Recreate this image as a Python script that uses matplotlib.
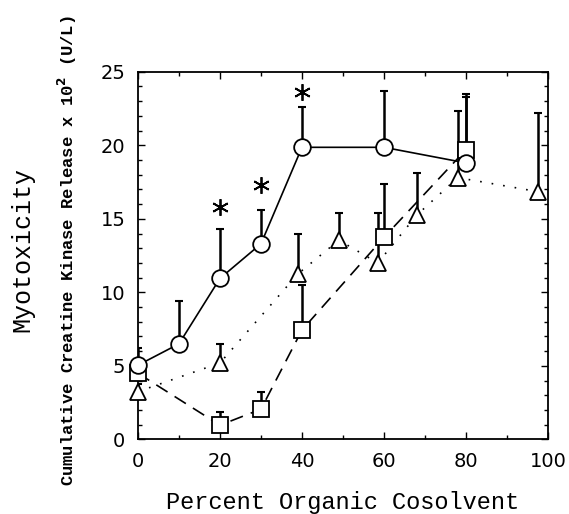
import matplotlib
matplotlib.use("Agg")
import matplotlib.pyplot as plt
from matplotlib.ticker import MultipleLocator

# Circles (solid)
circ_x = [0, 10, 20, 30, 40, 60, 80]
circ_y = [5.05, 6.5, 10.95, 13.3, 19.86, 19.86, 18.8]
circ_err = [1.2, 2.9, 3.35, 2.3, 2.75, 3.85, 4.5]
# Squares (dashed)
sq_x = [0, 20, 30, 40, 60, 80]
sq_y = [4.5, 0.97, 2.06, 7.44, 13.74, 19.7]
sq_err = [0.8, 0.9, 1.15, 3.05, 3.65, 3.8]
# Triangles (dotted)
tri_x = [0, 20, 39, 49, 58.5, 68, 78, 97.5]
tri_y = [3.25, 5.2, 11.25, 13.55, 12.0, 15.25, 17.8, 16.85]
tri_err = [0.5, 1.3, 2.75, 1.85, 3.4, 2.85, 4.5, 5.35]
# Significance asterisks
star_x = [20, 30, 40]
star_y = [15.8, 17.3, 23.6]

fig = plt.figure(figsize=(5.69, 5.14), dpi=100)
ax = fig.add_axes([0.2425, 0.145, 0.7205, 0.7155])

def series(x, y, err, marker, ls):
    ax.plot(x, y, color='black', lw=1.2, linestyle=ls, zorder=2)
    ax.errorbar(x, y, yerr=[[0]*len(err), err], fmt='none', ecolor='black',
                elinewidth=1.8, capsize=3, capthick=1.5, zorder=1)
    ax.plot(x, y, linestyle='none', marker=marker, ms=12, mfc='white',
            mec='black', mew=1.3, zorder=3, clip_on=False)

series(sq_x, sq_y, sq_err, 's', (0, (8, 5)))
series(tri_x, tri_y, tri_err, '^', (0, (1, 6)))
series(circ_x, circ_y, circ_err, 'o', '-')

ax.plot(star_x, star_y, linestyle='none', marker=(6, 2, 0), ms=12,
        color='black', mew=1.3, zorder=4)

ax.set_xlim(0, 100)
ax.set_ylim(0, 25)
ax.xaxis.set_major_locator(MultipleLocator(20))
ax.xaxis.set_minor_locator(MultipleLocator(10))
ax.yaxis.set_major_locator(MultipleLocator(5))
ax.yaxis.set_minor_locator(MultipleLocator(1))
ax.tick_params(which='both', direction='in', top=True, right=True,
               labelsize=14, pad=9, width=1)
ax.tick_params(which='major', length=5)
ax.tick_params(which='minor', length=3)
for lab in ax.get_xticklabels() + ax.get_yticklabels():
    lab.set_family('DejaVu Sans')
for s in ax.spines.values():
    s.set_linewidth(1.3)

fig.text(0.6025, 0.0097, 'Percent Organic Cosolvent', ha='center',
         va='baseline', family='Liberation Mono', fontsize=17)
fig.text(0.039, 0.515, 'Myotoxicity', rotation=90, ha='center', va='center',
         family='Liberation Mono', fontsize=18)
fig.text(0.118, 0.513, r'Cumulative Creatine Kinase Release x 10$^{\mathbf{2}}$ (U/L)',
         rotation=90, ha='center', va='center', family='Liberation Mono',
         fontsize=12.3, fontweight='bold')

fig.savefig('out.png', dpi=100)
